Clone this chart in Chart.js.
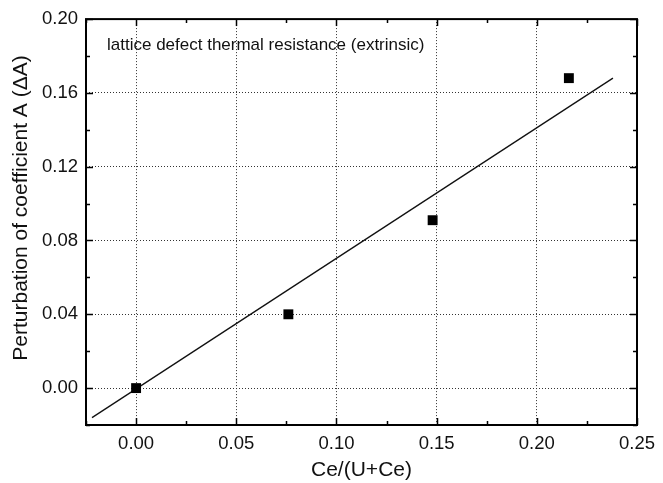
<!DOCTYPE html>
<html>
<head>
<meta charset="utf-8">
<script src="https://cdn.jsdelivr.net/npm/chart.js@4/dist/chart.umd.min.js"></script>
<style>
  html, body { margin: 0; padding: 0; background: #fff; }
  #wrap { width: 663px; height: 483px; }
</style>
</head>
<body>
<div id="wrap"><canvas id="cv"></canvas></div>
<script>
// measured points
var ceFraction = [0.0, 0.076, 0.148, 0.216];
var deltaA = [0.0, 0.040, 0.091, 0.168];

// linear fit drawn between its two end points
var fitX = [-0.022, 0.238];
var fitY = [-0.016, 0.168];

var xTicks = [0.00, 0.05, 0.10, 0.15, 0.20, 0.25];
var yTicks = [0.00, 0.04, 0.08, 0.12, 0.16, 0.20];
var xMinor = [-0.025, 0.025, 0.075, 0.125, 0.175, 0.225];
var yMinor = [-0.02, 0.02, 0.06, 0.10, 0.14, 0.18];

var noteText = 'lattice defect thermal resistance (extrinsic)';
var yTitle = 'Perturbation of coefficient A (ΔA)';
var FONT = 'Liberation Sans, Arial, Helvetica, sans-serif';

// frame around plot + inward ticks + note + y title
var framePlugin = {
  id: 'frame',
  afterDraw: function(chart) {
    var c = chart.ctx, a = chart.chartArea;
    var xs = chart.scales.x, ys = chart.scales.y;
    c.save();
    c.strokeStyle = '#000';
    c.lineWidth = 2;
    c.strokeRect(a.left, a.top, a.right - a.left, a.bottom - a.top);
    c.lineWidth = 1.5;
    c.beginPath();
    function xt(list, len) {
      list.forEach(function(v) {
        var p = Math.round(xs.getPixelForValue(v)) + 0.5;
        c.moveTo(p, a.bottom); c.lineTo(p, a.bottom - len);
        c.moveTo(p, a.top); c.lineTo(p, a.top + len);
      });
    }
    function yt(list, len) {
      list.forEach(function(v) {
        var p = Math.round(ys.getPixelForValue(v)) + 0.5;
        c.moveTo(a.left, p); c.lineTo(a.left + len, p);
        c.moveTo(a.right, p); c.lineTo(a.right - len, p);
      });
    }
    xt(xTicks, 7); xt(xMinor, 4);
    yt(yTicks, 7); yt(yMinor, 4);
    c.stroke();

    c.fillStyle = '#111';
    c.font = '17px ' + FONT;
    c.textBaseline = 'alphabetic';
    c.fillText(noteText, a.left + 21, a.top + 31);

    c.translate(21, 208);
    c.rotate(-Math.PI / 2);
    c.font = '21px ' + FONT;
    c.textAlign = 'center';
    c.textBaseline = 'middle';
    c.fillText(yTitle, 0, 0);
    c.restore();
  }
};

var scatterPts = ceFraction.map(function(x, i) { return { x: x, y: deltaA[i] }; });
var fitPts = fitX.map(function(x, i) { return { x: x, y: fitY[i] }; });

new Chart(document.getElementById('cv'), {
  type: 'scatter',
  data: {
    datasets: [{
      label: 'fit',
      data: fitPts,
      showLine: true,
      borderColor: '#111',
      borderWidth: 1.3,
      pointRadius: 0,
      order: 2
    }, {
      label: 'data',
      data: scatterPts,
      pointStyle: 'rect',
      pointRadius: 7,
      pointBorderWidth: 0,
      backgroundColor: '#000',
      borderColor: '#000',
      order: 1
    }]
  },
  options: {
    responsive: true,
    maintainAspectRatio: false,
    animation: false,
    layout: { padding: { left: 0, top: 17, right: 24, bottom: 0 } },
    plugins: { legend: { display: false }, tooltip: { enabled: false } },
    scales: {
      x: {
        type: 'linear',
        min: -0.025,
        max: 0.25,
        afterBuildTicks: function(s) { s.ticks = xTicks.map(function(v) { return { value: v }; }); },
        afterFit: function(s) { s.height = 58; },
        border: { display: false, dash: [1, 2] },
        grid: { color: '#333', lineWidth: 1, drawTicks: false },
        ticks: {
          color: '#111',
          padding: 8,
          font: { family: FONT, size: 18.5 },
          callback: function(v) { return v.toFixed(2); }
        },
        title: {
          display: true,
          text: 'Ce/(U+Ce)',
          color: '#111',
          padding: { top: 1, bottom: 0 },
          font: { family: FONT, size: 21 }
        }
      },
      y: {
        type: 'linear',
        min: -0.02,
        max: 0.20,
        afterBuildTicks: function(s) { s.ticks = yTicks.map(function(v) { return { value: v }; }); },
        afterFit: function(s) { s.width = 86; },
        border: { display: false, dash: [1, 2] },
        grid: { color: '#333', lineWidth: 1, drawTicks: false },
        ticks: {
          color: '#111',
          padding: 8,
          font: { family: FONT, size: 18.5 },
          callback: function(v) { return v.toFixed(2); }
        }
      }
    }
  },
  plugins: [framePlugin]
});
</script>
</body>
</html>
